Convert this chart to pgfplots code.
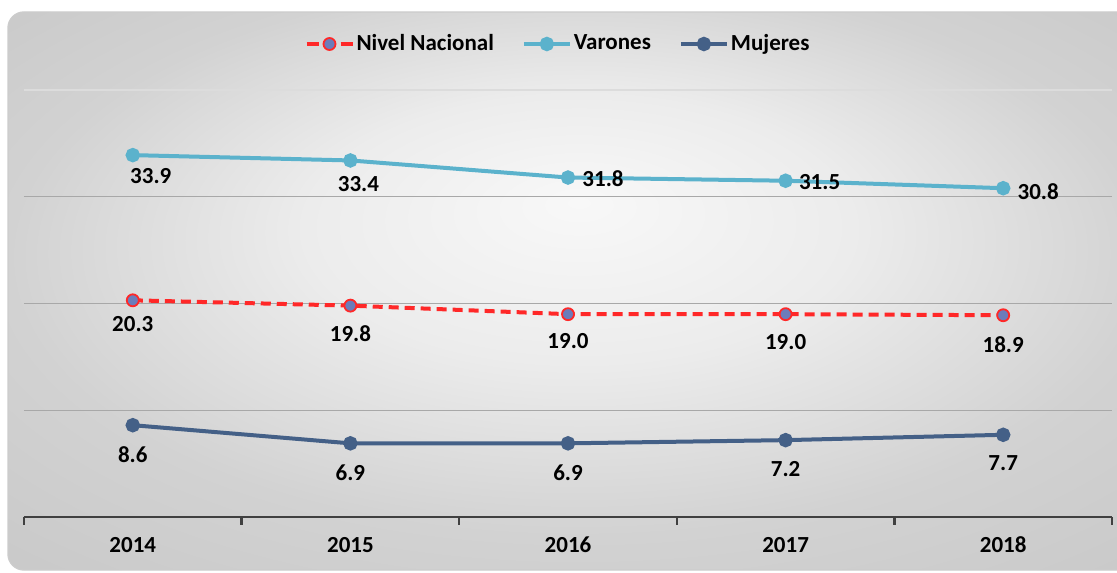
\documentclass[border=0pt]{standalone}
\usepackage{pgfplots}
\pgfplotsset{compat=1.18}
\usepackage{pgfplotstable}
\usepackage{fontspec}
\setmainfont{Carlito}
\definecolor{natred}{RGB}{255,40,40}
\definecolor{natfill}{RGB}{108,124,186}
\definecolor{varc}{RGB}{91,178,204}
\definecolor{mujc}{RGB}{68,96,135}
\definecolor{gridc}{RGB}{168,168,168}
\definecolor{axisc}{RGB}{64,64,64}
\definecolor{bgA}{RGB}{248,248,248}
\definecolor{bgB}{RGB}{236,236,236}
\definecolor{bgC}{RGB}{210,210,210}
\definecolor{bgD}{RGB}{198,198,198}
\pgfdeclareradialshading{bgshade}{\pgfpoint{0bp}{8bp}}{color(0bp)=(bgA); color(12bp)=(bgB); color(25bp)=(bgC); color(40bp)=(bgD)}
\newcommand\lbl{\fontsize{11.5}{13}\selectfont\bfseries}

\pgfplotstableread{
x y lab dx dy
0 20.3 20.3 0 -12
1 19.8 19.8 0 -14
2 19.0 19.0 0 -13.5
3 19.0 19.0 0 -14
4 18.9 18.9 0 -14.5
}\nacional
\pgfplotstableread{
x y lab dx dy
0 33.9 33.9 9 -10.5
1 33.4 33.4 4 -12
2 31.8 31.8 17.5 -0.5
3 31.5 31.5 17 -0.5
4 30.8 30.8 17.5 -1.5
}\varones
\pgfplotstableread{
x y lab dx dy
0 8.6 8.6 0 -14.5
1 6.9 6.9 0 -14.5
2 6.9 6.9 0 -14.5
3 7.2 7.2 0 -14.5
4 7.7 7.7 0 -14
}\mujeres

\begin{document}
\begin{tikzpicture}
\useasboundingbox (0,0) rectangle (558.5pt,286pt);
\shade[shading=bgshade, rounded corners=8pt] (4pt,1pt) rectangle (575pt,280pt);
\draw[gray!40, line width=0.7pt, rounded corners=8pt] (4pt,1pt) rectangle (575pt,280pt);
\begin{axis}[
  at={(12pt,27.5pt)}, anchor=south west,
  scale only axis, width=544pt, height=213.5pt,
  xmin=-0.5, xmax=4.5, ymin=0, ymax=40,
  clip=false,
  axis x line*=bottom, axis y line*=left,
  y axis line style={draw=none},
  x axis line style={draw=axisc, line width=1.2pt},
  ytick={10,20,30}, yticklabels={},
  ytick style={draw=none},
  extra y ticks={40}, extra y tick labels={},
  extra y tick style={grid=major, ytick style={draw=none}, grid style={draw=gridc!40, line width=0.6pt}},
  ymajorgrids, grid style={draw=gridc, line width=0.6pt},
  tick align=outside,
  xtick={-0.5,0.5,1.5,2.5,3.5,4.5}, xticklabels={},
  xtick style={draw=axisc, line width=1.2pt},
  major tick length=4pt,
  extra x ticks={0,1,2,3,4},
  extra x tick labels={2014,2015,2016,2017,2018},
  extra x tick style={major tick length=0pt, xtick style={draw=none}},
  xticklabel style={font=\lbl, anchor=center, yshift=-14pt},
  legend columns=3,
  legend style={at={(0.5,1)}, anchor=center, xshift=-5pt, yshift=23pt, draw=none, fill=none, font=\lbl,
    nodes={inner xsep=1pt},
    /tikz/every even column/.append style={column sep=13pt}},
  legend image code/.code={\draw[mark repeat=2,mark phase=2,#1] plot coordinates {(0pt,0pt)(11.5pt,0pt)(23pt,0pt)};},
  nodes near coords,
  point meta=explicit symbolic,
  visualization depends on={\thisrow{dx}\as\dx},
  visualization depends on={\thisrow{dy}\as\dy},
  every node near coord/.append style={font=\lbl, anchor=center, xshift=\dx pt, yshift=\dy pt, text=black},
]
\addplot[natred, line width=2pt, dash pattern=on 5pt off 3pt, mark=*, mark size=3pt,
  mark options={solid, fill=natfill, draw=natred, line width=0.9pt},
  legend image post style={dash pattern=on 6pt off 11pt}]
  table[x=x, y=y, meta=lab] {\nacional};
\addlegendentry{Nivel Nacional}
\addplot[varc, line width=2pt, mark=*, mark size=2.6pt, mark options={solid, fill=varc, draw=varc}]
  table[x=x, y=y, meta=lab] {\varones};
\addlegendentry{Varones}
\addplot[mujc, line width=2pt, mark=*, mark size=2.6pt, mark options={solid, fill=mujc, draw=mujc}]
  table[x=x, y=y, meta=lab] {\mujeres};
\addlegendentry{Mujeres}
\end{axis}
\end{tikzpicture}
\end{document}
